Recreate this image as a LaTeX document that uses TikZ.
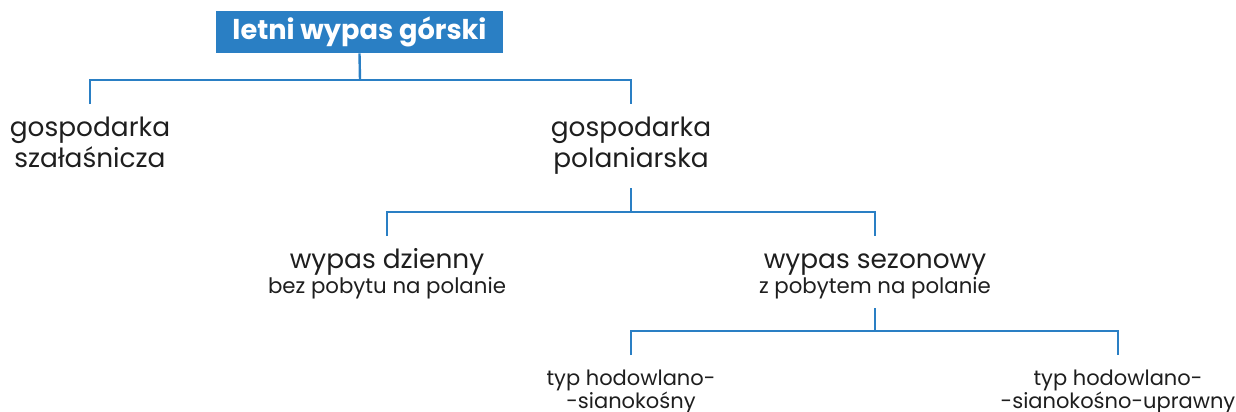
\documentclass[tikz,border=0pt]{standalone}
\usepackage{fontspec}
\setmainfont{Poppins}
\definecolor{blu}{HTML}{2A7FC4}
\definecolor{txt}{HTML}{1E1E1E}
\begin{document}
\begin{tikzpicture}[x=0.5pt,y=-0.5pt,
  conn/.style={draw=blu,line width=1.2pt},
  mainlbl/.style={text=txt,align=center,inner sep=0pt,anchor=base,font=\fontsize{13.2}{15.75}\selectfont},
  sublbl/.style={text=txt,align=center,inner sep=0pt,anchor=base,font=\fontsize{10.65}{12}\selectfont},
  botlbl/.style={text=txt,align=center,inner sep=0pt,anchor=base,font=\fontsize{10.5}{11.5}\selectfont},
  titlebox/.style={fill=blu,text=white,inner sep=0pt,minimum width=143.5pt,minimum height=21pt,font=\bfseries\fontsize{13.6}{16}\selectfont}]
\useasboundingbox (0,0) rectangle (1236,412);
\node[titlebox] (t) at (359.5,32) {letni wypas górski};
\node[mainlbl] (gs) at (90,167.5) {gospodarka\\szałaśnicza};
\node[mainlbl] (gp) at (631,167.5) {gospodarka\\polaniarska};
\node[mainlbl] (wd) at (387,268) {wypas dzienny};
\node[sublbl] (wds) at (387,293) {bez pobytu na polanie};
\node[mainlbl] (ws) at (875,268) {wypas sezonowy};
\node[sublbl] (wss) at (875,293) {z pobytem na polanie};
\node[botlbl] (th1) at (631,408) {typ hodowlano-\\-sianokośny};
\node[botlbl] (th2) at (1118,408) {typ hodowlano-\\-sianokośno-uprawny};
% bus 1
\coordinate (b1) at (360,80);
\coordinate (b1l) at (90,80);
\coordinate (b1r) at (631,80);
\coordinate (e1l) at (90,104);
\coordinate (e1r) at (631,104);
\draw[conn] (t.south) -- (b1);
\draw[conn] (e1l) -- (b1l) -- (b1r) -- (e1r);
% bus 2
\coordinate (s2) at (631,188);
\coordinate (b2) at (631,212);
\coordinate (b2l) at (387,212);
\coordinate (b2r) at (875,212);
\coordinate (e2l) at (387,236);
\coordinate (e2r) at (875,236);
\draw[conn] (s2) -- (b2);
\draw[conn] (e2l) -- (b2l) -- (b2r) -- (e2r);
% bus 3
\coordinate (s3) at (875,308);
\coordinate (b3) at (875,331);
\coordinate (b3l) at (631,331);
\coordinate (b3r) at (1118,331);
\coordinate (e3l) at (631,355);
\coordinate (e3r) at (1118,355);
\draw[conn] (s3) -- (b3);
\draw[conn] (e3l) -- (b3l) -- (b3r) -- (e3r);
\end{tikzpicture}
\end{document}
